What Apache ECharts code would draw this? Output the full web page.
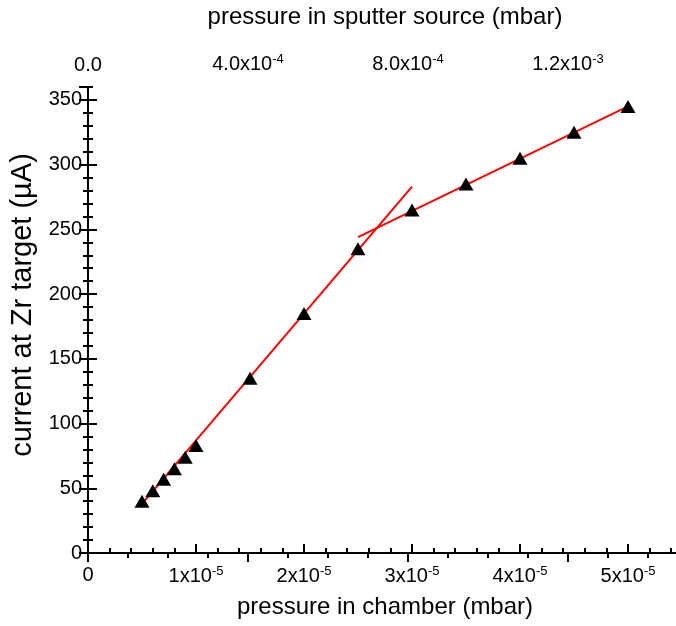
<!DOCTYPE html>
<html>
<head>
<meta charset="utf-8">
<script src="https://cdn.jsdelivr.net/npm/echarts@6/dist/echarts.min.js"></script>
<style>html,body{margin:0;padding:0;background:#fff}#c{width:676px;height:626px}</style>
</head>
<body>
<div id="c"></div>
<script>
// chamber pressure (mbar) and target current (µA)
var pressureChamber = [0.5e-5, 0.6e-5, 0.7e-5, 0.8e-5, 0.9e-5, 1.0e-5, 1.5e-5, 2.0e-5, 2.5e-5, 3.0e-5, 3.5e-5, 4.0e-5, 4.5e-5, 5.0e-5];
var currentTarget = [40, 48, 57, 65, 74, 83, 135, 185, 235, 265, 285, 305, 325, 345];
// linear fit segments: [x, y] end points
var fitLowX = [0.5e-5, 3.0e-5];
var fitLowY = [38, 283];
var fitHighX = [2.5e-5, 5.0e-5];
var fitHighY = [244, 345];
// axis ranges and tick steps
var xBottomMax = 5.5e-5, xBottomStep = 1e-5, xBottomMinor = 2e-6;
var xTopMax = 1.485e-3, xTopStep = 4e-4, xTopMinor = 1e-4;
var yMax = 360, yStep = 50, yMinor = 10;

var FONT = 'Liberation Sans, Arial, sans-serif';
function zip(a, b) { return a.map(function (v, i) { return [v, b[i]]; }); }
function supFmt(v, zeroText) {
  if (Math.abs(v) < 1e-12) return '{b|' + zeroText + '}';
  var e = Math.floor(Math.log10(v) + 1e-9);
  var m = v / Math.pow(10, e);
  var ms = zeroText === '0' ? String(Math.round(m)) : m.toFixed(1);
  return '{b|' + ms + 'x10}{s|' + e + '}';
}
var rich = {
  b: { fontSize: 20, fontFamily: FONT, color: '#000' },
  s: { fontSize: 13, fontFamily: FONT, color: '#000', verticalAlign: 'top', padding: [0, 0, 9, 0] }
};
function majorAxis(extra) {
  return Object.assign({
    type: 'value',
    axisLine: { lineStyle: { color: '#000', width: 2 } },
    axisTick: { inside: true, length: 9, lineStyle: { color: '#000', width: 2 } },
    minorTick: { show: false },
    splitLine: { show: false },
    nameTextStyle: { fontSize: 24, fontFamily: FONT, color: '#000' }
  }, extra);
}
function minorAxis(position, max, step) {
  return {
    type: 'value', position: position, min: 0, max: max, interval: step,
    axisLine: { show: false },
    axisTick: { show: true, inside: true, length: 5, lineStyle: { color: '#000', width: 2 } },
    axisLabel: { show: false },
    splitLine: { show: false }
  };
}
var chart = echarts.init(document.getElementById('c'));
chart.setOption({
  animation: false,
  backgroundColor: '#fff',
  grid: { left: 88, top: 87, right: -6, bottom: 73, containLabel: false, outerBoundsMode: 'none' },
  xAxis: [
    majorAxis({
      position: 'bottom', min: 0, max: xBottomMax, interval: xBottomStep,
      name: 'pressure in chamber (mbar)', nameLocation: 'middle', nameGap: 42,
      axisLabel: { margin: 12, showMaxLabel: false, formatter: function (v) { return supFmt(v, '0'); }, rich: rich }
    }),
    majorAxis({
      position: 'top', min: 0, max: xTopMax, interval: xTopStep,
      name: 'pressure in sputter source (mbar)', nameLocation: 'middle', nameGap: 58,
      axisLabel: { margin: 12, showMaxLabel: false, formatter: function (v) { return supFmt(v, '0.0'); }, rich: rich }
    }),
    minorAxis('bottom', xBottomMax, xBottomMinor),
    minorAxis('top', xTopMax, xTopMinor)
  ],
  yAxis: [
    majorAxis({
      position: 'left', min: 0, max: yMax, interval: yStep,
      name: 'current at Zr target (\u00b5A)', nameLocation: 'middle', nameGap: 38,
      nameTextStyle: { fontSize: 29, fontFamily: FONT, color: '#000', padding: [0, 0, 0, 30] },
      axisLabel: { margin: 6, showMaxLabel: false, fontSize: 20, fontFamily: FONT, color: '#000' }
    }),
    majorAxis({
      position: 'right', min: 0, max: yMax, interval: yStep,
      axisLabel: { show: false }
    }),
    minorAxis('left', yMax, yMinor),
    minorAxis('right', yMax, yMinor)
  ],
  series: [
    { type: 'line', data: zip(fitLowX, fitLowY), showSymbol: false, symbol: 'none', lineStyle: { color: '#ff0000', width: 2 }, z: 2 },
    { type: 'line', data: zip(fitHighX, fitHighY), showSymbol: false, symbol: 'none', lineStyle: { color: '#ff0000', width: 2 }, z: 2 },
    { type: 'scatter', data: zip(pressureChamber, currentTarget), symbol: 'triangle', symbolSize: [15, 13], itemStyle: { color: '#000', opacity: 1 }, z: 3 }
  ]
});
</script>
</body>
</html>
